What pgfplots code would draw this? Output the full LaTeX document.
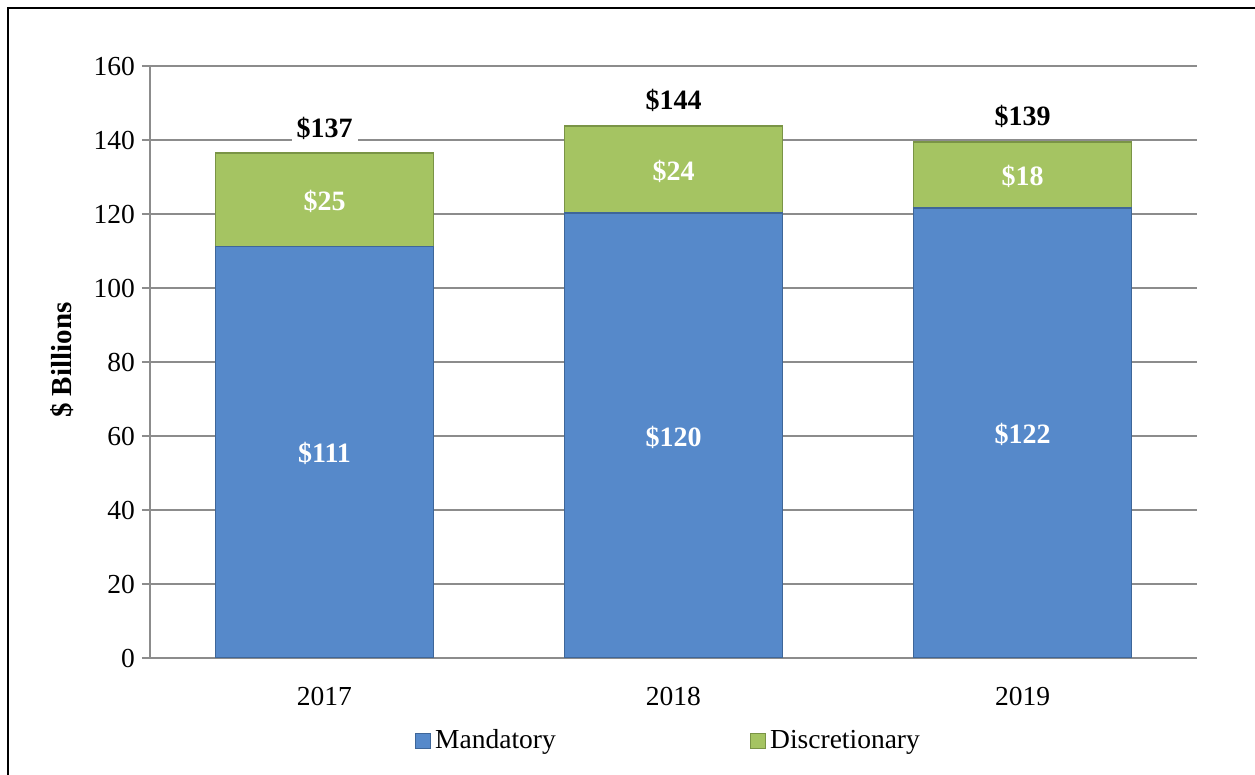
\documentclass[border=0pt]{standalone}
\usepackage{fontspec}
\setmainfont{Liberation Serif}
\usepackage{pgfplots}
\usepackage{pgfplotstable}
\pgfplotsset{compat=1.18}
\definecolor{mand}{HTML}{5689CA}
\definecolor{manddark}{HTML}{3E6699}
\definecolor{disc}{HTML}{A5C462}
\definecolor{discdark}{HTML}{7A9446}
\definecolor{gridgray}{HTML}{8C8C8C}

\pgfplotstableread{
x mand disc
0 111.2 25.3
1 120.3 23.5
2 121.6 17.9
}\bars

\pgfplotstableread{
x y lab
0 55.2 111
1 59.7 120
2 60.3 122
}\mandlabels

\pgfplotstableread{
x y lab
0 123.5 25
1 131.6 24
2 130.1 18
}\disclabels

\pgfplotstableread{
x y lab
0 136.5 137
1 143.8 144
2 139.5 139
}\totals

\pgfplotsset{base/.style={scale only axis, width=523.5pt, height=296pt,
  xmin=-0.5, xmax=2.5, ymin=0, ymax=160}}

\begin{document}
\begin{tikzpicture}
\useasboundingbox (-75pt,-58.5pt) rectangle (552.5pt,329pt);
\draw[line width=1pt] (-71pt,-58.5pt) -- (-71pt,325pt) -- (552.5pt,325pt);
\begin{axis}[base,
  ybar stacked, bar width=109pt,
  axis x line*=bottom, axis y line*=left,
  axis line style={gridgray, line width=0.9pt},
  ytick={0,20,...,160},
  xtick={0,1,2}, xticklabels={2017,2018,2019},
  ymajorgrids, grid style={gridgray, line width=0.9pt},
  y tick style={gridgray, line width=0.9pt},
  x tick style={draw=none},
  tick align=outside, major tick length=4pt,
  tick label style={font=\fontsize{13.75}{15}\selectfont},
  xticklabel style={yshift=-7pt},
  /pgf/number format/assume math mode=true,
  ylabel={\$ Billions},
  ylabel style={font=\fontsize{14.5}{16}\selectfont\bfseries, at={(axis description cs:-0.084,0.503)}, anchor=center},
  legend style={at={(0.496,-0.14)}, anchor=center, legend columns=2, draw=none,
    font=\fontsize{13.75}{15}\selectfont,
    /tikz/every even column/.append style={column sep=95pt}},
  legend image code/.code={\draw[#1] (0pt,-3.75pt) rectangle (7.5pt,3.75pt);},
]
\addplot[fill=mand, draw=manddark, line width=0.7pt] table[x=x,y=mand]{\bars};
\addlegendentry{Mandatory}
\addplot[fill=disc, draw=discdark, line width=0.7pt] table[x=x,y=disc]{\bars};
\addlegendentry{Discretionary}
\end{axis}
\begin{axis}[base, hide axis]
\addplot[draw=none, mark=none, point meta=explicit symbolic,
  nodes near coords={\$\pgfplotspointmeta},
  every node near coord/.append style={anchor=center, text=white, font=\fontsize{14}{16}\selectfont\bfseries}]
  table[x=x,y=y,meta=lab]{\mandlabels};
\addplot[draw=none, mark=none, point meta=explicit symbolic,
  nodes near coords={\$\pgfplotspointmeta},
  every node near coord/.append style={anchor=center, text=white, font=\fontsize{14}{16}\selectfont\bfseries}]
  table[x=x,y=y,meta=lab]{\disclabels};
\addplot[draw=none, mark=none, point meta=explicit symbolic,
  nodes near coords={\$\pgfplotspointmeta},
  every node near coord/.append style={anchor=center, yshift=12.5pt, fill=white, inner sep=2.5pt, text=black, font=\fontsize{14}{16}\selectfont\bfseries}]
  table[x=x,y=y,meta=lab]{\totals};
\end{axis}
\end{tikzpicture}
\end{document}
